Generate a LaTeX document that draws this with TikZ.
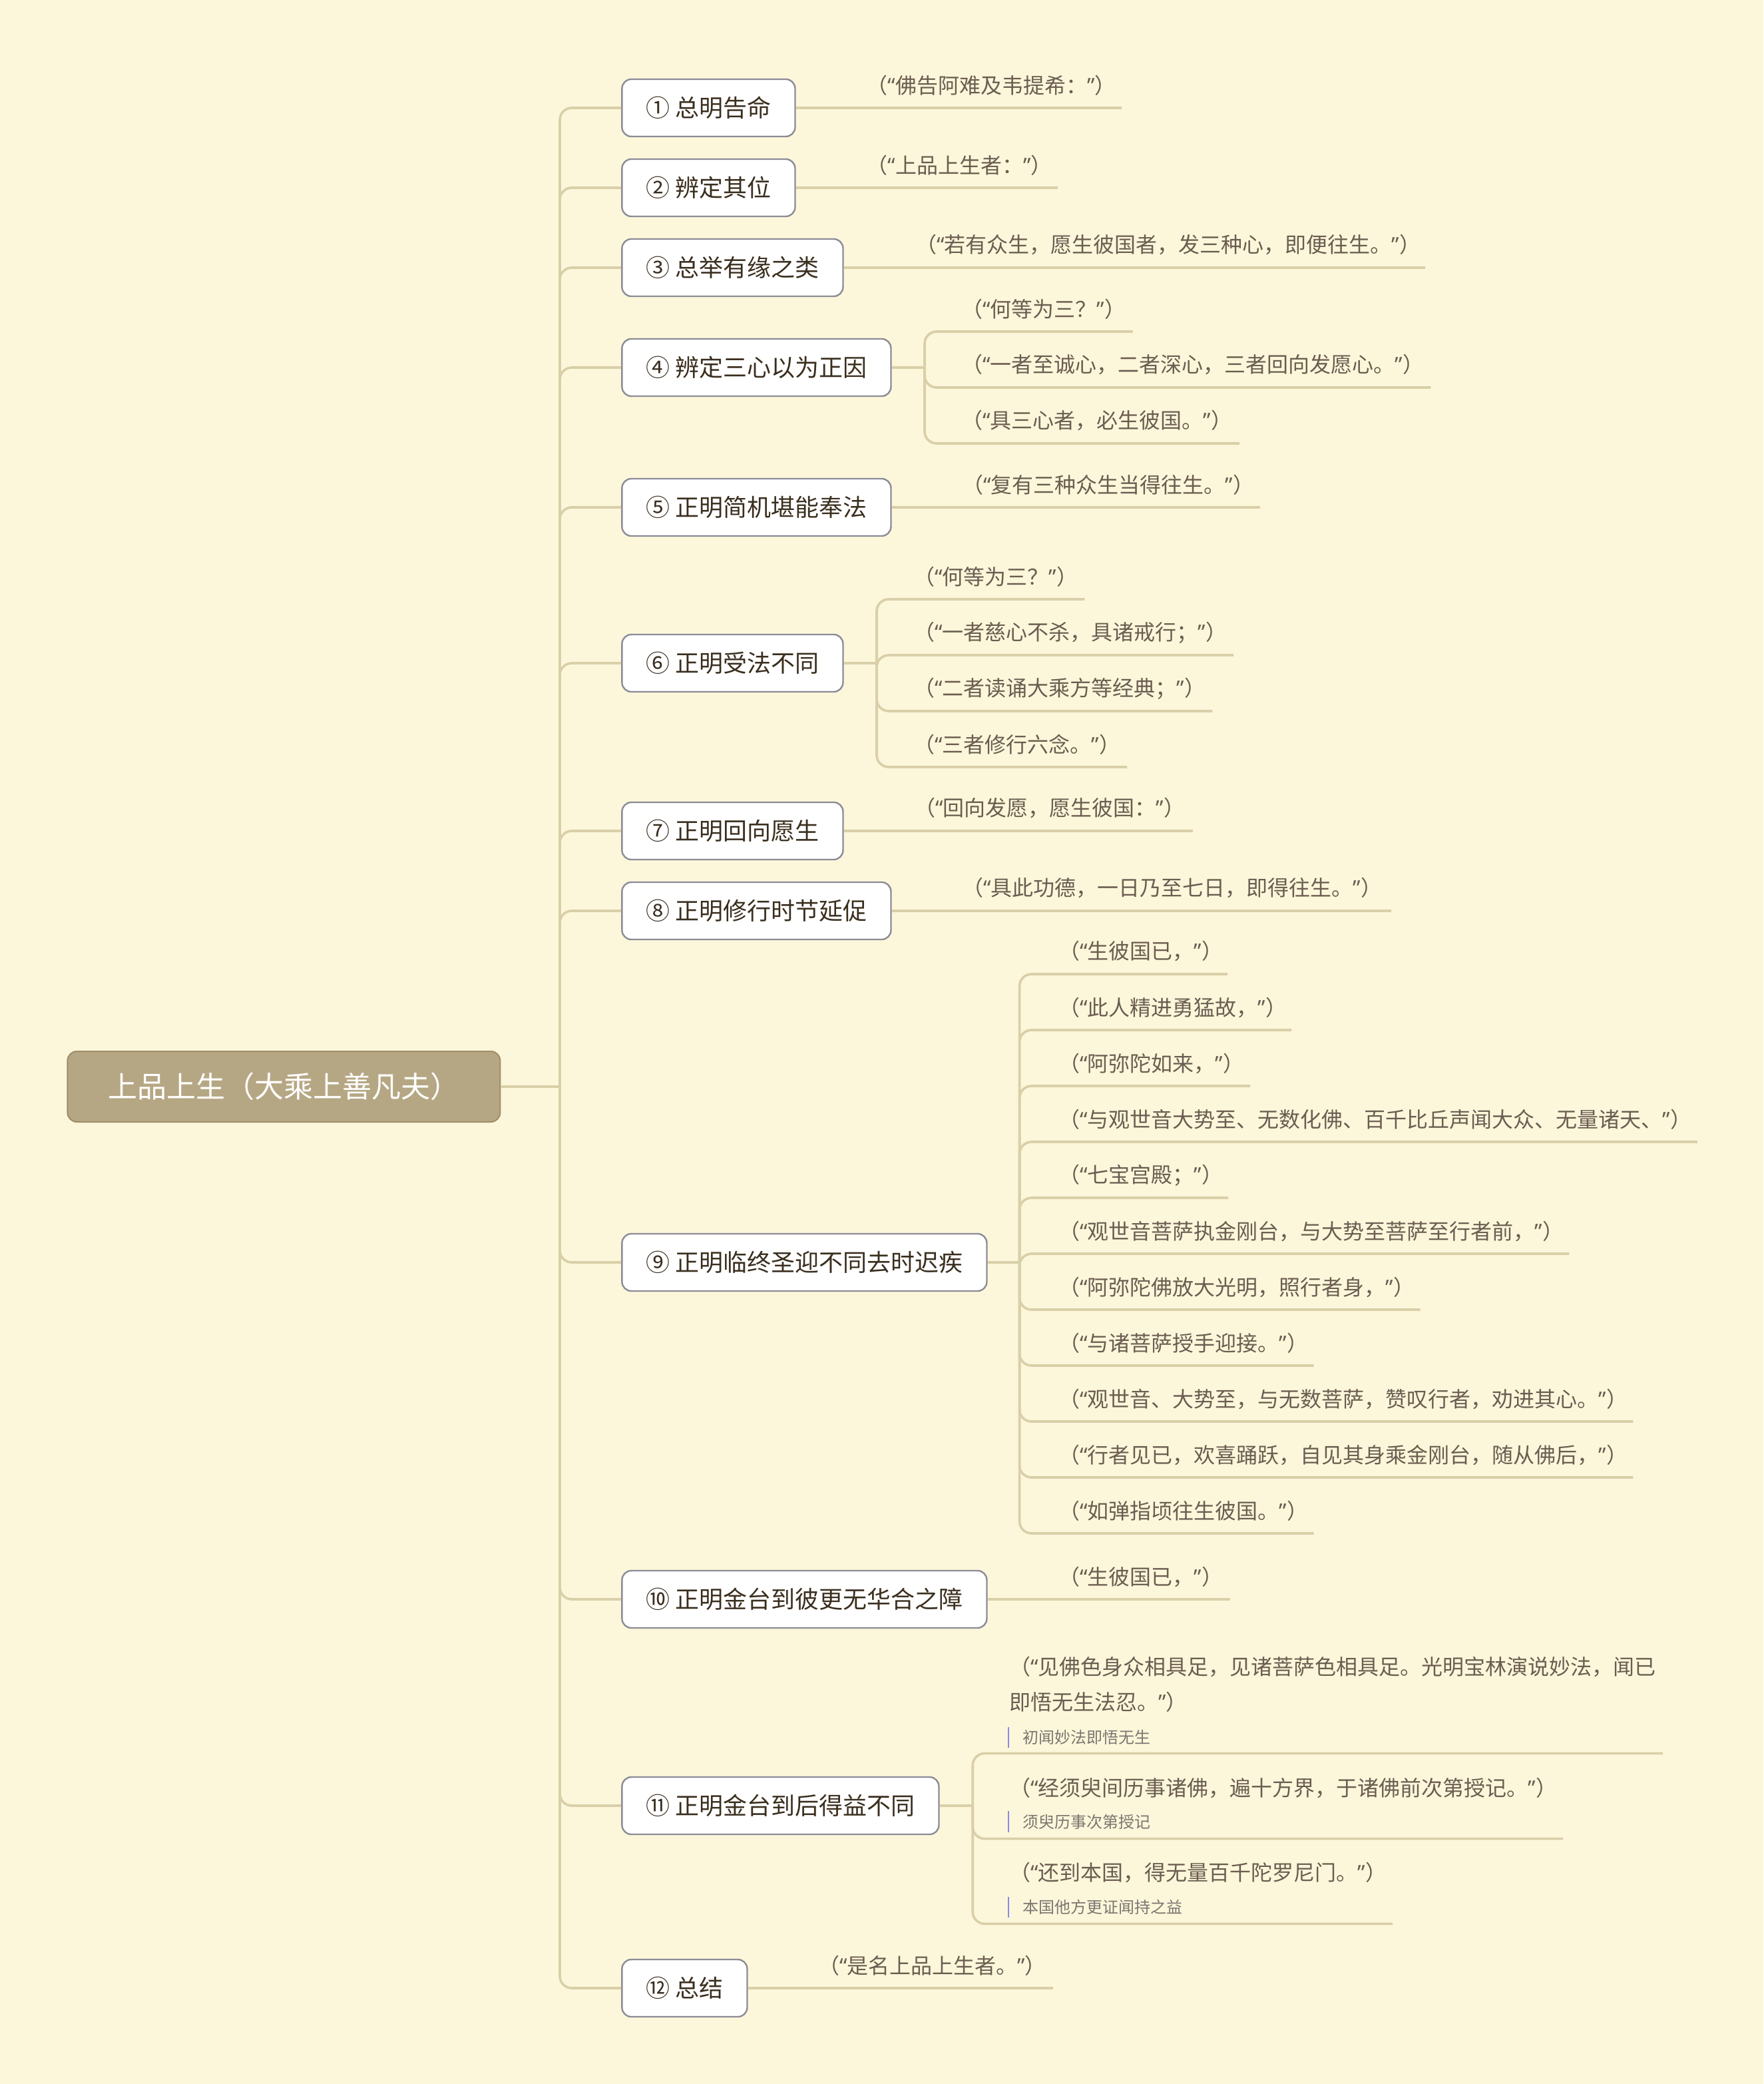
\documentclass[tikz,border=0pt]{standalone}
\usepackage{fontspec}
\setmainfont{Noto Sans CJK SC}
\newfontfamily\qtfont{Noto Sans}
\newcommand\qo{{\qtfont “}}
\newcommand\qc{{\qtfont ”}}
\usetikzlibrary{positioning}
\definecolor{paper}{HTML}{FCF7DA}
\definecolor{twigcol}{HTML}{D9CFA8}
\definecolor{rim}{HTML}{8C8C98}
\definecolor{ink}{HTML}{3A2E1E}
\definecolor{quoteink}{HTML}{6B5D51}
\definecolor{noteink}{HTML}{7B7670}
\definecolor{barcol}{HTML}{8B8BE0}
\definecolor{rootfill}{HTML}{B6A784}
\definecolor{rootrim}{HTML}{A08D68}

\tikzset{
  root/.style={draw=rootrim, fill=rootfill, line width=1pt, rounded corners=7pt, text=white,
    font=\fontsize{22}{26}\selectfont, minimum width=325pt, minimum height=53pt, anchor=west},
  topic/.style={draw=rim, fill=white, line width=1.2pt, rounded corners=7pt, text=ink,
    font=\fontsize{18}{22}\selectfont, inner xsep=18pt, minimum height=43pt, anchor=west},
  quote/.style={text=quoteink, font=\fontsize{16}{26.6}\selectfont, inner sep=0pt, anchor=west, align=left},
  remark/.style={text=noteink, font=\fontsize{12}{14}\selectfont, inner xsep=0pt, inner ysep=2pt, anchor=west},
  branch/.style={draw=twigcol, line width=1.8pt, rounded corners=9pt},
  notebar/.style={draw=barcol, line width=1.2pt},
}

\begin{document}
\begin{tikzpicture}[x=1pt, y=-1pt]
  \fill[paper] (0,0) rectangle (1324.5,1565);
  \useasboundingbox (0,0) rectangle (1324.5,1565);

  % root and main trunk
  \node[root] (root) at (50.2,816) {上品上生（大乘上善凡夫）};
  \coordinate (hub) at (420.5,816);
  \draw[branch] (root.east) -- (hub);

  \node[topic] (t1) at (466.6,81) {① 总明告命};
  \node[topic] (t2) at (466.6,141) {② 辨定其位};
  \node[topic] (t3) at (466.6,201) {③ 总举有缘之类};
  \node[topic] (t4) at (466.6,276) {④ 辨定三心以为正因};
  \node[topic] (t5) at (466.6,381) {⑤ 正明简机堪能奉法};
  \node[topic] (t6) at (466.6,498) {⑥ 正明受法不同};
  \node[topic] (t7) at (466.6,624) {⑦ 正明回向愿生};
  \node[topic] (t8) at (466.6,684) {⑧ 正明修行时节延促};
  \node[topic] (t9) at (466.6,948) {⑨ 正明临终圣迎不同去时迟疾};
  \node[topic] (t10) at (466.6,1201) {⑩ 正明金台到彼更无华合之障};
  \node[topic] (t11) at (466.6,1356) {⑪ 正明金台到后得益不同};
  \node[topic] (t12) at (466.6,1493) {⑫ 总结};
  \foreach \t in {t1,t2,t3,t4,t5,t6,t7,t8,t9,t10,t11,t12}
    \draw[branch] (hub) |- (\t.west);

  % single quotes
  \node[quote] (q1) at (650.6,64) {（\qo 佛告阿难及韦提希：\qc）};
  \coordinate (u1) at (842.6,81);
  \node[quote] (q2) at (650.6,124) {（\qo 上品上生者：\qc）};
  \coordinate (u2) at (794.6,141);
  \node[quote] (q3) at (687.5,184) {（\qo 若有众生，愿生彼国者，发三种心，即便往生。\qc）};
  \coordinate (u3) at (1070.7,201);
  \node[quote] (q5) at (722.5,364) {（\qo 复有三种众生当得往生。\qc）};
  \coordinate (u5) at (946.4,381);
  \node[quote] (q7) at (686.5,607) {（\qo 回向发愿，愿生彼国：\qc）};
  \coordinate (u7) at (896,624);
  \node[quote] (q8) at (722.5,667) {（\qo 具此功德，一日乃至七日，即得往生。\qc）};
  \coordinate (u8) at (1045,684);
  \node[quote] (q10) at (795,1184) {（\qo 生彼国已，\qc）};
  \coordinate (u10) at (924,1201);
  \node[quote] (q12) at (614.3,1476) {（\qo 是名上品上生者。\qc）};
  \coordinate (u12) at (790.9,1493);
  \foreach \t/\u in {t1/u1,t2/u2,t3/u3,t5/u5,t7/u7,t8/u8,t10/u10,t12/u12}
    \draw[branch] (\t.east) -- (\u);

  % three minds
  \coordinate (j4) at (694.5,276);
  \draw[branch] (t4.east) -- (j4);
  \foreach \txt/\e [count=\k from 0] in {{（\qo 何等为三？\qc）}/850.8,
      {（\qo 一者至诚心，二者深心，三者回向发愿心。\qc）}/1074.7,
      {（\qo 具三心者，必生彼国。\qc）}/931} {
    \node[quote] (q4-\k) at (722,232+42*\k) {\txt};
    \coordinate (u4-\k) at (\e,249+42*\k);
    \draw[branch] (j4) |- (u4-\k);
  }

  % three kinds of practice
  \coordinate (j6) at (658.5,498);
  \draw[branch] (t6.east) -- (j6);
  \foreach \txt/\e [count=\k from 0] in {{（\qo 何等为三？\qc）}/814.7,
      {（\qo 一者慈心不杀，具诸戒行；\qc）}/926.6,
      {（\qo 二者读诵大乘方等经典；\qc）}/910.7,
      {（\qo 三者修行六念。\qc）}/846.6} {
    \node[quote] (q6-\k) at (686,433+42*\k) {\txt};
    \coordinate (u6-\k) at (\e,450+42*\k);
    \draw[branch] (j6) |- (u6-\k);
  }

  % welcome at the end of life
  \coordinate (j9) at (765.8,948);
  \draw[branch] (t9.east) -- (j9);
  \foreach \txt/\e [count=\k from 0] in {{（\qo 生彼国已，\qc）}/922,
      {（\qo 此人精进勇猛故，\qc）}/970,
      {（\qo 阿弥陀如来，\qc）}/939,
      {（\qo 与观世音大势至、无数化佛、百千比丘声闻大众、无量诸天、\qc）}/1275,
      {（\qo 七宝宫殿；\qc）}/922.5,
      {（\qo 观世音菩萨执金刚台，与大势至菩萨至行者前，\qc）}/1178.7,
      {（\qo 阿弥陀佛放大光明，照行者身，\qc）}/1066.8,
      {（\qo 与诸菩萨授手迎接。\qc）}/986.8,
      {（\qo 观世音、大势至，与无数菩萨，赞叹行者，劝进其心。\qc）}/1226.7,
      {（\qo 行者见已，欢喜踊跃，自见其身乘金刚台，随从佛后，\qc）}/1226.7,
      {（\qo 如弹指顷往生彼国。\qc）}/986.8} {
    \node[quote] (q9-\k) at (795,714.5+42*\k) {\txt};
    \coordinate (u9-\k) at (\e,731.5+42*\k);
    \draw[branch] (j9) |- (u9-\k);
  }

  % benefits after arrival
  \coordinate (j11) at (730.6,1356);
  \draw[branch] (t11.east) -- (j11);
  \node[quote] (q11-0) at (758,1265) {（\qo 见佛色身众相具足，见诸菩萨色相具足。光明宝林演说妙法，闻已\\即悟无生法忍。\qc）};
  \node[remark] (n11-0) at (768,1304.7) {初闻妙法即悟无生};
  \coordinate (u11-0) at (1249,1316.7);
  \node[quote] (q11-1) at (758,1342.5) {（\qo 经须臾间历事诸佛，遍十方界，于诸佛前次第授记。\qc）};
  \node[remark] (n11-1) at (768,1368) {须臾历事次第授记};
  \coordinate (u11-1) at (1174,1380.8);
  \node[quote] (q11-2) at (758,1406) {（\qo 还到本国，得无量百千陀罗尼门。\qc）};
  \node[remark] (n11-2) at (768,1432) {本国他方更证闻持之益};
  \coordinate (u11-2) at (1046,1444.7);
  \foreach \k in {0,1,2} {
    \draw[branch] (j11) |- (u11-\k);
    \draw[notebar] ([xshift=-10.6pt]n11-\k.north west) -- ([xshift=-10.6pt]n11-\k.south west);
  }
\end{tikzpicture}
\end{document}
